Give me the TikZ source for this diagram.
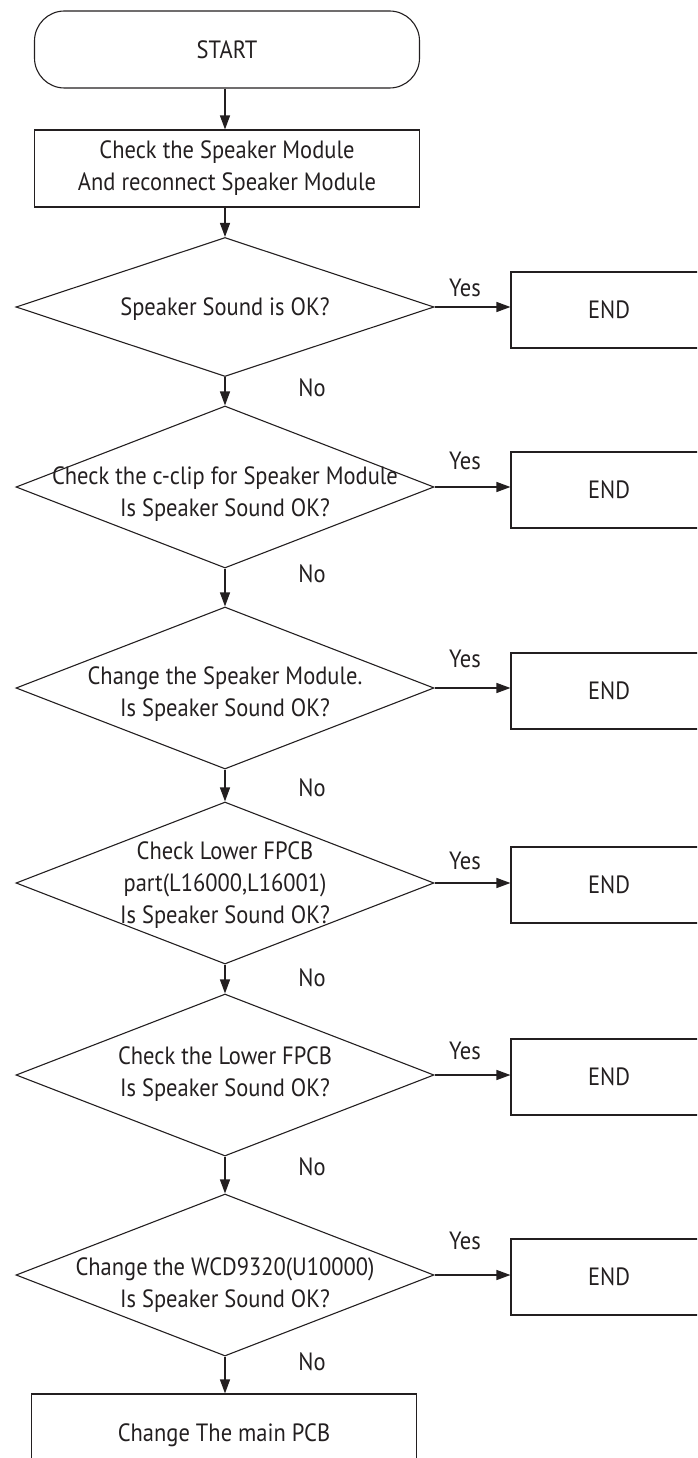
\documentclass[tikz,border=0pt]{standalone}
\usepackage{fontspec}
\setmainfont{PT Sans}[FakeStretch=0.9]
\usetikzlibrary{shapes.geometric,arrows.meta}
\definecolor{ink}{HTML}{231F20}
\begin{document}
\begin{tikzpicture}[x=1pt,y=-1pt,
  txt/.style={font=\fontsize{25}{32}\selectfont, text=ink, align=center, inner sep=0pt},
  box/.style={txt, draw=ink, line width=1.1pt, minimum width=385pt, minimum height=77pt},
  endbox/.style={txt, draw=ink, line width=1.1pt, minimum width=196pt, minimum height=76pt},
  dia/.style={draw=ink, line width=1.1pt, diamond, minimum width=418pt, minimum height=162pt, inner sep=0pt},
  arr/.style={draw=ink, line width=1.3pt, -{Triangle[length=14pt,width=10pt]}},
  lbl/.style={txt}]
\useasboundingbox (0,0) rectangle (697,1458);
\clip (0,0) rectangle (697,1458);

\node[box, rounded corners=30pt] (start) at (227,49.5) {START};
\node[box] (chk) at (227,168.5) {Check the Speaker Module\\And reconnect Speaker Module};

\node[dia, minimum height=139pt] (d1) at (225,307) {};
\node[txt] (t1) at (225,309) {Speaker Sound is OK?};
\node[dia] (d2) at (225,487) {};
\node[txt] (t2) at (225,494) {Check the c-clip for Speaker Module\\Is Speaker Sound OK?};
\node[dia] (d3) at (225,688) {};
\node[txt] (t3) at (225,694) {Change the Speaker Module.\\Is Speaker Sound OK?};
\node[dia] (d4) at (225,883) {};
\node[txt] (t4) at (225,885) {Check Lower FPCB\\part(L16000,L16001)\\Is Speaker Sound OK?};
\node[dia] (d5) at (225,1075) {};
\node[txt] (t5) at (225,1074) {Check the Lower FPCB\\Is Speaker Sound OK?};
\node[dia] (d6) at (225,1275) {};
\node[txt] (t6) at (225,1285) {Change the WCD9320(U10000)\\Is Speaker Sound OK?};

\node[box, minimum height=82pt] (pcb) at (224,1435) {Change The main PCB};

\node[endbox] (e1) at (609,310) {END};
\node[endbox] (e2) at (609,490) {END};
\node[endbox] (e3) at (609,691) {END};
\node[endbox] (e4) at (609,885) {END};
\node[endbox] (e5) at (609,1077) {END};
\node[endbox] (e6) at (609,1277) {END};

% vertical flow
\draw[arr] (start.south -| d1.north) -- (chk.north -| d1.north);
\draw[arr] (chk.south -| d1.north) -- (d1.north);
\draw[arr] (d1.south) -- (d2.north);
\draw[arr] (d2.south) -- (d3.north);
\draw[arr] (d3.south) -- (d4.north);
\draw[arr] (d4.south) -- (d5.north);
\draw[arr] (d5.south) -- (d6.north);
\draw[arr] (d6.south) -- (d6.south |- pcb.north);

% yes branches
\draw[arr] (d1.east) -- (d1.east -| e1.west);
\draw[arr] (d2.east) -- (d2.east -| e2.west);
\draw[arr] (d3.east) -- (d3.east -| e3.west);
\draw[arr] (d4.east) -- (d4.east -| e4.west);
\draw[arr] (d5.east) -- (d5.east -| e5.west);
\draw[arr] (d6.east) -- (d6.east -| e6.west);

\node[lbl] (y1) at (465,288) {Yes};
\node[lbl] (y2) at (465,461) {Yes};
\node[lbl] (y3) at (465,659) {Yes};
\node[lbl] (y4) at (465,861) {Yes};
\node[lbl] (y5) at (465,1051) {Yes};
\node[lbl] (y6) at (465,1241) {Yes};

\node[lbl] (n1) at (312,388) {No};
\node[lbl] (n2) at (312,574) {No};
\node[lbl] (n3) at (312,788) {No};
\node[lbl] (n4) at (312,978) {No};
\node[lbl] (n5) at (312,1167) {No};
\node[lbl] (n6) at (312,1362) {No};
\end{tikzpicture}
\end{document}
